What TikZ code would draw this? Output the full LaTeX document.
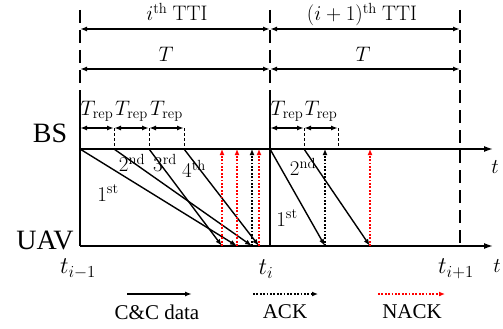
\RequirePackage{fix-cm}
\documentclass[tikz,border=0pt]{standalone}
\usepackage[no-math]{fontspec}
\setmainfont{Liberation Serif}
\usepackage{xcolor}
\usepackage{tikz}
\usetikzlibrary{arrows.meta,positioning}

\begin{document}
\begin{tikzpicture}[
    x=1pt, y=-1pt,
    axis/.style={-{Latex[length=9pt,width=6pt]}, line width=1.5pt},
    span/.style={{Latex[length=7pt,width=5pt]}-{Latex[length=7pt,width=5pt]}, line width=1.4pt},
    bound/.style={line width=1.8pt, dash pattern=on 13pt off 7pt},
    edge/.style={line width=1.8pt},
    tick/.style={line width=0.8pt, dash pattern=on 3pt off 2pt},
    data/.style={-{Latex[length=7pt,width=5pt]}, line width=1.4pt},
    ack/.style={-{Latex[length=6pt,width=5pt]}, line width=1.6pt, dash pattern=on 1.8pt off 1.6pt},
    nack/.style={ack, red},
    side/.style={font=\fontsize{28}{30}\selectfont, inner sep=0pt},
    lab/.style={font=\fontsize{21}{24}\selectfont, inner sep=0pt},
    tim/.style={font=\fontsize{24}{26}\selectfont, inner sep=0pt},
    key/.style={font=\fontsize{21}{24}\selectfont, inner sep=0pt}
  ]
    \useasboundingbox (0,0) rectangle (503,329);

    % time marks: one column per instant, one row per level
    \foreach \c/\x in {A/80, B/114, C/149, D/184, E/270, F/304, G/338, H/460}
      \foreach \r/\y in {top/10, mid/92, tti/29, per/69, rep/128, bs/149, uav/246}
        \coordinate (\r\c) at (\x,\y);
    \coordinate (bsEnd) at (493,149);
    \coordinate (uavEnd) at (493,246);
    \coordinate (lowH) at (460,249);

    % TTI boundaries
    \draw[bound] (topA) -- (midA);
    \draw[edge] (midA) -- (uavA);
    \draw[bound] (topE) -- (midE);
    \draw[edge] (midE) -- (uavE);
    \draw[bound] (topH) -- (lowH);

    % time axes
    \draw[axis] (bsA) -- (bsEnd);
    \draw[axis] (uavA) -- (uavEnd);

    % spans
    \draw[span] (ttiA) -- (ttiE);
    \draw[span] (ttiE) -- (ttiH);
    \draw[span] (perA) -- (perE);
    \draw[span] (perE) -- (perH);
    \foreach \a/\b in {A/B, B/C, C/D, E/F, F/G}
      \draw[span] (rep\a) -- (rep\b);
    \foreach \c in {B, C, D, F, G}
      \draw[tick] (rep\c) -- (bs\c);

    % C&C data and feedback
    \coordinate (rx1) at (237,246);
    \coordinate (rx2) at (252,246);
    \coordinate (rx3) at (222,246);
    \coordinate (rx4) at (259,246);
    \coordinate (rx5) at (325,246);
    \coordinate (rx6) at (370,246);
    \foreach \s/\r in {A/1, B/2, C/3, D/4, E/5, F/6}
      \draw[data] (bs\s) -- (rx\r);
    \foreach \r in {1, 3, 4, 6}
      \draw[nack] (rx\r) -- (rx\r |- bsA);
    \foreach \r in {2, 5}
      \draw[ack] (rx\r) -- (rx\r |- bsA);

    % labels
    \node[side] (bs) at (50,133) {BS};
    \node[side] (uav) at (45,240) {UAV};
    \node[lab, anchor=base] (ttiI) at (177,21) {$i^{\mathrm{th}}\ \mathrm{TTI}$};
    \node[lab, anchor=base] (ttiII) at (362,21) {$(i+1)^{\mathrm{th}}\ \mathrm{TTI}$};
    \node[lab, anchor=base] (perI) at (166,62) {$T$};
    \node[lab, anchor=base] (perII) at (363,62) {$T$};
    \foreach \n/\x in {1/97, 2/131.5, 3/166.5, 4/287, 5/321}
      \node[lab, anchor=base] (rep\n) at (\x,115) {$T_{\mathrm{rep}}$};
    \node[lab] (o1) at (108,193) {$1^{\mathrm{st}}$};
    \node[lab] (o2) at (132,163) {$2^{\mathrm{nd}}$};
    \node[lab] (o3) at (165,163) {$3^{\mathrm{rd}}$};
    \node[lab] (o4) at (194,169) {$4^{\mathrm{th}}$};
    \node[lab] (o5) at (287,218) {$1^{\mathrm{st}}$};
    \node[lab] (o6) at (303,167) {$2^{\mathrm{nd}}$};
    \node[lab] (tBS) at (495,167) {$t$};
    \node[lab] (tUAV) at (497,266) {$t$};
    \node[tim] (tA) at (78,269) {$t_{i-1}$};
    \node[tim] (tE) at (266,269) {$t_i$};
    \node[tim] (tH) at (456,269) {$t_{i+1}$};

    % legend
    \node[key] (kData) at (157,312) {C\&C data};
    \node[key] (kAck) at (285,312) {ACK};
    \node[key] (kNack) at (412,312) {NACK};
    \coordinate (k1a) at (127,294);
    \coordinate (k1b) at (192,294);
    \coordinate (k2a) at (253,294);
    \coordinate (k2b) at (318,294);
    \coordinate (k3a) at (378,294);
    \coordinate (k3b) at (445,294);
    \draw[data] (k1a) -- (k1b);
    \draw[ack] (k2a) -- (k2b);
    \draw[nack] (k3a) -- (k3b);
  \end{tikzpicture}
\end{document}
